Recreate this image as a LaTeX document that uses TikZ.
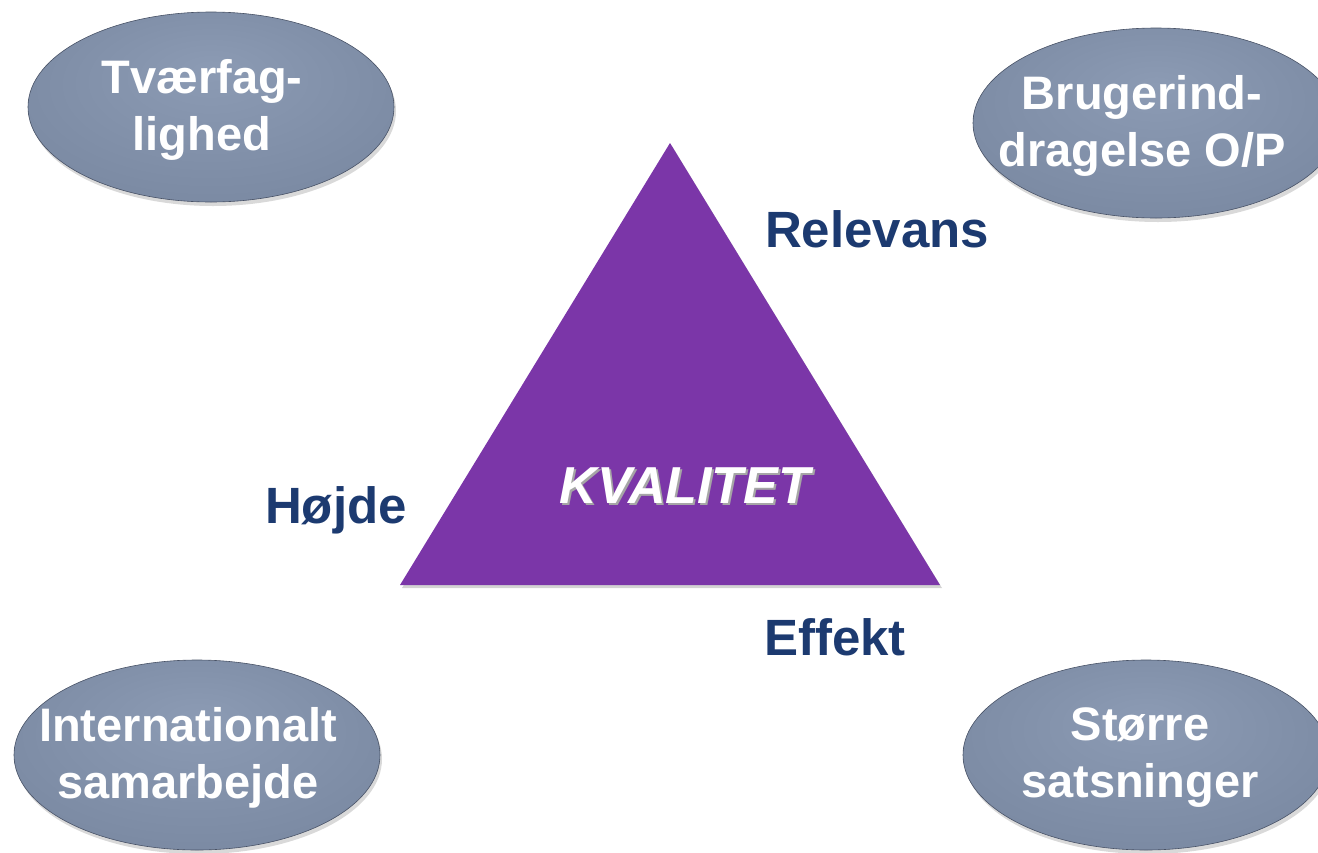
\documentclass[tikz,border=0pt]{standalone}
\usepackage{fontspec}
\setmainfont{Liberation Sans}
\usetikzlibrary{shapes.geometric,shadows}

\definecolor{kvlilla}{RGB}{123,54,168}
\definecolor{labelblue}{RGB}{28,58,112}
\definecolor{ovaltop}{RGB}{140,155,180}
\definecolor{ovalmid}{RGB}{123,138,163}
\definecolor{ovalbund}{RGB}{90,103,128}

\pgfdeclareradialshading{ovalshade}{\pgfpoint{0bp}{10bp}}{%
  color(0bp)=(ovaltop); color(30bp)=(ovalmid); color(44bp)=(ovalmid!85!ovalbund); color(50bp)=(ovalbund)}

\tikzset{
  oval/.style={ellipse,minimum width=183pt,minimum height=95pt,inner sep=0pt,
    shading=ovalshade,draw=ovalbund!80!black,line width=0.3pt,
    drop shadow={opacity=0.3,shadow xshift=1pt,shadow yshift=-2pt}},
  ovaltext/.style={text=white,align=center,font=\fontsize{23.5}{28.5}\selectfont\bfseries},
  side/.style={anchor=base,text=labelblue,font=\fontsize{25.5}{30}\selectfont\bfseries}
}

\begin{document}
\begin{tikzpicture}[x=0.5pt,y=-0.5pt]
\useasboundingbox (0,0) rectangle (1318,852);

% triangle
\fill [kvlilla,drop shadow={opacity=0.35,shadow xshift=1pt,shadow yshift=-1.5pt}]
  (670,143) -- (940,585) -- (400,585) -- cycle;
\node [anchor=base,text=gray!70,font=\fontsize{26}{30}\selectfont\bfseries\itshape]
  (kvshadow) at (687,505) {KVALITET};
\node [anchor=base,text=white,font=\fontsize{26}{30}\selectfont\bfseries\itshape]
  (kvalitet) at (685,503) {KVALITET};

% sides
\node [side] (relevans) at (877,247) {Relevans};
\node [side] (hojde) at (336,523) {Højde};
\node [side] (effekt) at (835,655) {Effekt};

% ovals
\node [oval] (tvaerfag) at (211,107) {};
\node [oval] (bruger) at (1156,123) {};
\node [oval] (internat) at (197,755) {};
\node [oval] (satsning) at (1146,755) {};

\node [ovaltext] (tvaerfagtxt) at ([shift={(-9,3)}]tvaerfag.center) {Tværfag-\\lighed};
\node [ovaltext] (brugertxt) at ([shift={(-14,3)}]bruger.center) {Brugerind-\\dragelse O/P};
\node [ovaltext] (internattxt) at ([shift={(-9,3)}]internat.center) {Internationalt\\samarbejde};
\node [ovaltext] (satsningtxt) at ([shift={(-6,3)}]satsning.center) {Større\\satsninger};

\end{tikzpicture}
\end{document}
